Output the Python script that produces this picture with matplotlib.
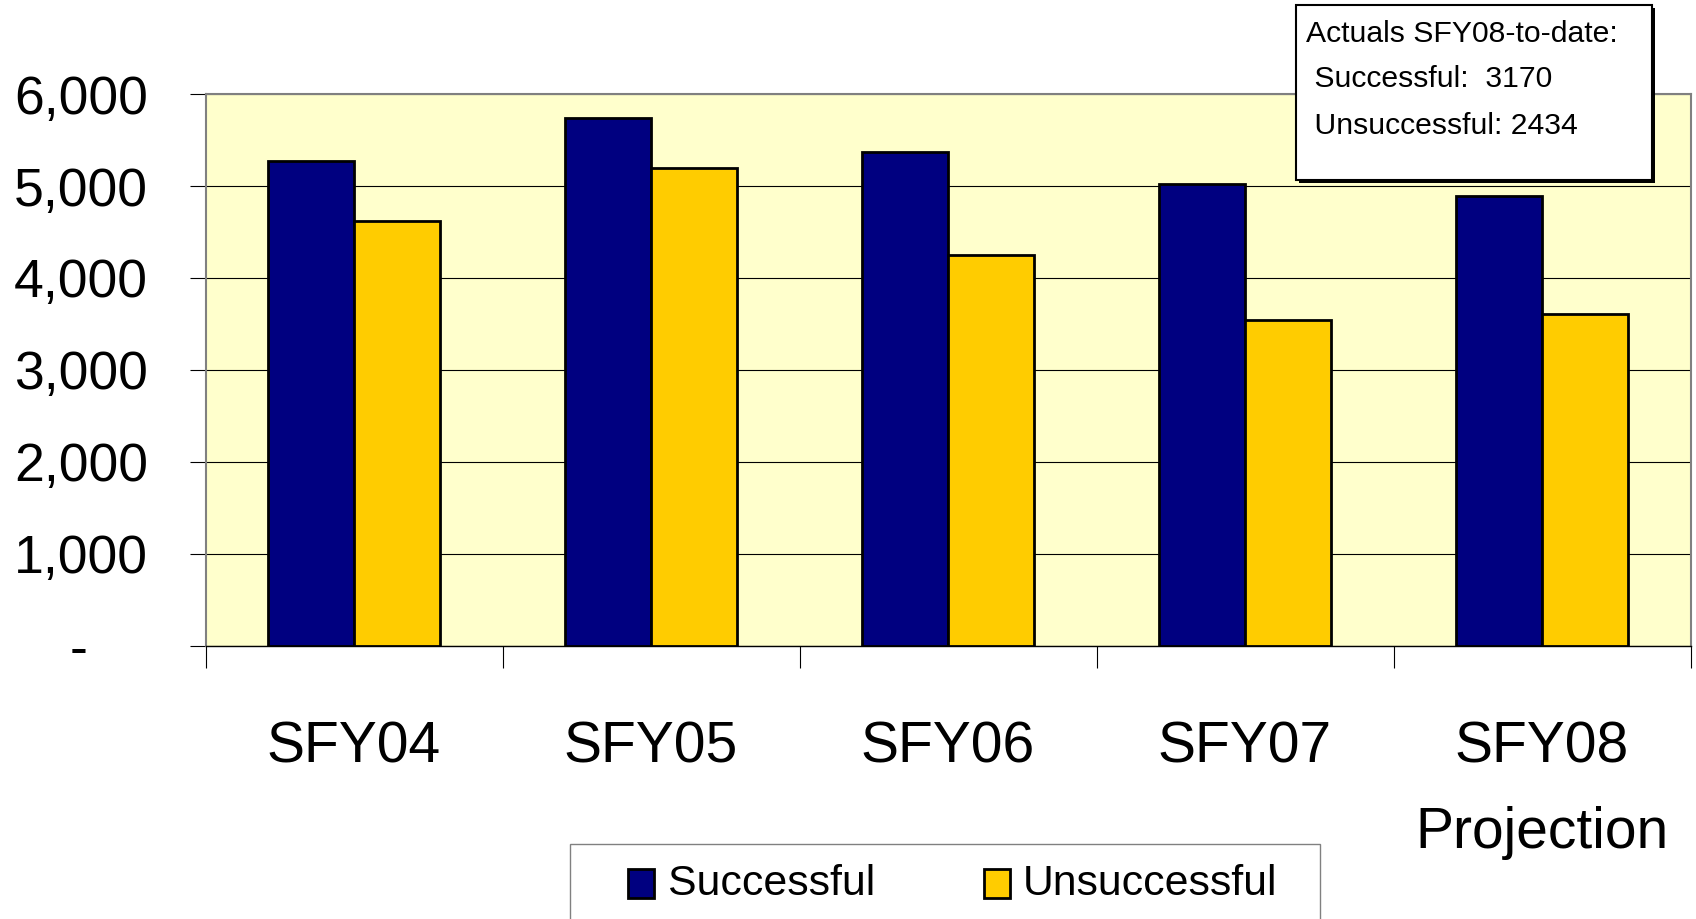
import matplotlib
matplotlib.use("Agg")
import matplotlib.pyplot as plt
from matplotlib.patches import Rectangle
from matplotlib import font_manager

categories = ["SFY04", "SFY05", "SFY06", "SFY07", "SFY08\nProjection"]
successful = [5270, 5740, 5365, 5025, 4895]
unsuccessful = [4625, 5200, 4245, 3540, 3610]
yticks = [0, 1000, 2000, 3000, 4000, 5000, 6000]
ytick_labels = ["-    ", "1,000", "2,000", "3,000", "4,000", "5,000", "6,000"]
series_names = ["Successful", "Unsuccessful"]
note_lines = ["Actuals SFY08-to-date:", " Successful:  3170", " Unsuccessful: 2434"]

NAVY = "#000080"
GOLD = "#FFCC00"
BG = "#FFFFCC"

names = {f.name for f in font_manager.fontManager.ttflist}
REG = "Liberation Sans" if "Liberation Sans" in names else "DejaVu Sans"
if "Liberation Sans Narrow" in names:
    NAR = "Liberation Sans Narrow"
    k = 1.0
else:
    NAR = REG
    k = 0.82

W, H = 1696, 919
fig = plt.figure(figsize=(W / 100, H / 100), dpi=100)
ax = fig.add_axes([205.5 / W, 1 - 645.7 / H, (1690.5 - 205.5) / W, (645.7 - 94.1) / H])
ax.set_facecolor(BG)

x = list(range(len(categories)))
bw = 0.29
ax.bar([i - bw / 2 for i in x], successful, width=bw, color=NAVY,
       edgecolor="black", linewidth=2.0, zorder=3)
ax.bar([i + bw / 2 for i in x], unsuccessful, width=bw, color=GOLD,
       edgecolor="black", linewidth=2.0, zorder=3)

ax.set_xlim(-0.5, len(categories) - 0.5)
ax.set_ylim(0, 6000)
ax.set_yticks(yticks)
ax.set_yticklabels(ytick_labels, fontfamily=REG, fontsize=38.5)
ax.tick_params(axis="y", direction="out", length=11.5, width=0.8, color="black", pad=30)
ax.yaxis.grid(True, color="black", linewidth=0.8, zorder=1)
ax.set_axisbelow(True)

ax.set_xticks(x)
ax.set_xticklabels(categories, fontfamily=NAR, fontsize=50 * k, linespacing=1.75, va="top")
ax.tick_params(axis="x", which="major", length=0, pad=54)
ax.set_xticks([i - 0.5 for i in range(len(categories) + 1)], minor=True)
ax.tick_params(axis="x", which="minor", direction="out", length=15.5, width=0.8, color="black")

for s in ["top", "right", "left"]:
    ax.spines[s].set_color("#808080")
    ax.spines[s].set_linewidth(1.5)
ax.spines["bottom"].set_color("black")
ax.spines["bottom"].set_linewidth(1.0)

# annotation box
def fx(px):
    return px / W

def fy(py):
    return 1 - py / H

fig.patches.append(Rectangle((fx(1299), fy(182.5)), fx(1655) - fx(1299), fy(8.4) - fy(182.5),
                             transform=fig.transFigure, facecolor="black", edgecolor="none",
                             zorder=5))
fig.patches.append(Rectangle((fx(1296), fy(179.5)), fx(1652) - fx(1296), fy(5.4) - fy(179.5),
                             transform=fig.transFigure, facecolor="white", edgecolor="black",
                             linewidth=1.5, zorder=6))
note_pos = [(1305.6, 33.5), (1305.6, 79), (1305.6, 125.5)]
for (px, py), t in zip(note_pos, note_lines):
    fig.text(fx(px), fy(py), t, fontfamily=NAR, fontsize=26.5 * k, ha="left", va="center",
             zorder=7)

# legend
fig.patches.append(Rectangle((fx(570), fy(925)), fx(1320) - fx(570), fy(843.6) - fy(925),
                             transform=fig.transFigure, facecolor="white", edgecolor="#808080",
                             linewidth=1.0, zorder=5))
leg_items = [(628, 668, NAVY, series_names[0]), (984, 1023, GOLD, series_names[1])]
for mx, tx, col, name in leg_items:
    fig.patches.append(Rectangle((fx(mx), fy(898)), fx(mx + 26) - fx(mx), fy(868.5) - fy(898),
                                 transform=fig.transFigure, facecolor=col, edgecolor="black",
                                 linewidth=2.0, zorder=6))
    fig.text(fx(tx), fy(884), name, fontfamily=NAR, fontsize=37.5 * k, ha="left", va="center",
             zorder=7)

fig.savefig("out.png", dpi=100)
